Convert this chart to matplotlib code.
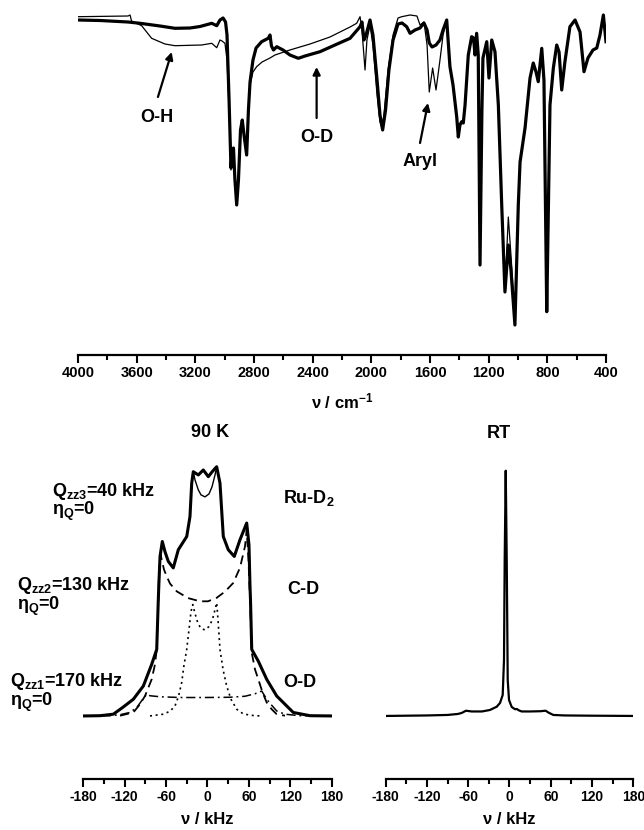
import matplotlib
matplotlib.use("Agg")
import matplotlib.pyplot as plt
from matplotlib.ticker import MultipleLocator

plt.rcParams['font.family'] = ['Liberation Sans', 'DejaVu Sans']
plt.rcParams['font.weight'] = 'bold'
plt.rcParams['mathtext.fontset'] = 'custom'
plt.rcParams['mathtext.rm'] = 'Liberation Sans:bold'
plt.rcParams['mathtext.it'] = 'Liberation Sans:bold'
plt.rcParams['mathtext.bf'] = 'Liberation Sans:bold'
plt.rcParams['mathtext.sf'] = 'Liberation Sans:bold'
plt.rcParams['mathtext.default'] = 'rm'
plt.rcParams['axes.unicode_minus'] = False

# ---------------- IR data (transmittance, arbitrary units) ----------------
ir_thick_wn = [4000, 3850, 3659, 3577, 3441, 3339, 3236, 3168, 3088, 3054, 3032, 3011, 2994, 2984,
               2970, 2957, 2947, 2940, 2930, 2918, 2906, 2892, 2880, 2868, 2850, 2838, 2827, 2807,
               2786, 2748, 2703, 2691, 2681, 2667, 2645, 2602, 2555, 2498, 2452, 2350, 2248, 2145,
               2077, 2064, 2050, 2036, 2009, 1989, 1961, 1941, 1923, 1903, 1880, 1852, 1818, 1791,
               1759, 1736, 1702, 1668, 1641, 1620, 1605, 1586, 1559, 1532, 1511, 1486, 1464, 1443,
               1418, 1407, 1396, 1384, 1373, 1361, 1339, 1316, 1303, 1293, 1282, 1271, 1259, 1246,
               1239, 1213, 1198, 1179, 1157, 1134, 1111, 1089, 1066, 1048, 1021, 998, 986, 952,
               918, 896, 877, 862, 838, 823, 804, 792, 782, 759, 736, 720, 702, 680, 646, 611,
               577, 550, 523, 489, 463, 441, 418, 400]
ir_thick_t = [320, 319.5, 318, 316.7, 314, 311.7, 312, 313.5, 316.7, 314.3, 320, 322, 318, 305,
              240, 172, 190, 192, 160, 135, 160, 210, 220, 205, 185, 230, 258, 280,
              292, 298.3, 301.7, 305, 294, 290, 293.3, 290, 285, 281.7, 284, 288.3, 295, 301.7,
              313.3, 318, 300, 305, 320, 305, 260, 225, 210, 230, 270, 300, 316, 317,
              313.3, 306.7, 310, 312, 317, 310, 297, 293, 295, 300, 310, 320, 273.3, 255,
              223.3, 203, 215, 218.3, 217, 235, 285, 303.3, 302, 285, 306.7, 285, 75, 230,
              282, 298.3, 262, 300, 288.3, 235, 135, 48, 95, 70, 15, 135, 178, 212,
              262, 277, 268, 258.3, 291.7, 260, 28.3, 140, 235, 272, 295, 288, 250, 278.3, 313.3, 320,
              308, 268.3, 282, 290, 292, 305, 325, 298.3]

ir_thin_wn = [4000, 3659, 3645, 3635, 3566, 3498, 3407, 3339, 3157, 3088, 3054, 3032, 3018, 2998,
              2984, 2970, 2957, 2947, 2940, 2930, 2918, 2906, 2892, 2880, 2868, 2850, 2838, 2827,
              2807, 2782, 2745, 2691, 2657, 2555, 2418, 2282, 2145, 2100, 2077, 2064, 2043, 2030,
              2009, 1989, 1961, 1941, 1927, 1914, 1886, 1852, 1818, 1793, 1736, 1689, 1668, 1641,
              1620, 1605, 1582, 1559, 1532, 1511, 1486, 1464, 1443,
              1418, 1407, 1396, 1384, 1373, 1361, 1339, 1316, 1303, 1293, 1282, 1271, 1259, 1246,
              1239, 1213, 1198, 1179, 1157, 1134, 1111, 1089, 1066, 1048, 1021, 998, 986, 952,
              918, 896, 877, 862, 838, 823, 804, 792, 782, 759, 736, 720, 702, 680, 646, 611,
              577, 550, 523, 489, 463, 441, 418, 400]
ir_thin_t = [323.3, 324, 325, 319, 314.3, 301.7, 296, 294.3, 295, 296.7, 292.3, 300, 299, 296.7,
             280, 230, 170, 188, 190, 158, 135, 158, 205, 218, 202, 185, 225, 255,
             268, 273.3, 278, 282, 285, 290, 296, 303, 313, 316.7, 323.3, 310, 270, 300,
             315, 295, 245, 218, 212, 225, 270, 305, 322, 323.3, 325, 324, 315, 318,
             295, 248, 272, 250, 280, 305, 320, 273.3, 255,
             223.3, 203, 215, 218.3, 217, 235, 285, 303.3, 302, 285, 306.7, 285, 75, 230,
             282, 298.3, 262, 300, 288.3, 235, 135, 50, 123, 85, 20, 135, 178, 212,
             262, 277, 268, 258.3, 291.7, 260, 28.3, 140, 235, 272, 295, 288, 250, 278.3, 313.3, 320,
             308, 268.3, 282, 290, 292, 305, 325, 298.3]

ir_ticks = [4000, 3600, 3200, 2800, 2400, 2000, 1600, 1200, 800, 400]

# ---------------- 2H NMR, 90 K ----------------
exp90_nu = [-180, -155.8, -136.5, -122.5, -107.5, -93, -80.9, -73.6, -71.3, -70.6, -68.8, -65.5,
            -61.6, -56.8, -49.6, -42.3, -30.1, -25.4, -22.9, -20.6, -13.3, -6.1, 1.2, 6.5, 13.3,
            18.1, 22.9, 30.1, 38.8, 47.1, 56.8, 60.1, 61.6, 62.3, 64.1, 73.6, 85.8, 100.3, 124.3,
            148.6, 180]
exp90_i = [0, 0.001, 0.007, 0.035, 0.067, 0.12, 0.207, 0.267, 0.467, 0.52, 0.64, 0.70,
           0.659, 0.62, 0.594, 0.667, 0.72, 0.80, 0.934, 0.98, 0.967, 0.987, 0.96, 0.979, 1.0,
           0.934, 0.72, 0.667, 0.64, 0.707, 0.774, 0.687, 0.52, 0.467, 0.267, 0.22, 0.147, 0.08, 0.014,
           0.001, 0]

sum90_nu = [-20.6, -18.1, -13.3, -9.4, -3.6, 2.2, 6.5, 10.9, 13.3]
sum90_i = [0.98, 0.947, 0.907, 0.887, 0.879, 0.891, 0.919, 0.967, 0.999]

cd_nu = [-126.8, -107.5, -97.8, -90.6, -80.9, -76.1, -73.6, -71.7, -70.3, -68.0, -63, -59.1,
         -54.3, -44.6, -28.3, -10.9, 0.7, 13.3, 25.4, 37.4, 47.1, 54.3, 56.8, 59.4, 61.6, 64.1,
         68.8, 73.6, 79.7, 85.8, 93, 100.3, 112.3]
cd_i = [0.001, 0.014, 0.047, 0.08, 0.147, 0.207, 0.267, 0.427, 0.567, 0.647, 0.587, 0.56,
        0.531, 0.50, 0.473, 0.46, 0.46, 0.474, 0.499, 0.534, 0.595, 0.68, 0.747, 0.627, 0.467, 0.254,
        0.187, 0.147, 0.095, 0.054, 0.027, 0.007, 0.001]

rud_nu = [-83.3, -64.1, -54.3, -47.1, -42, -37.4, -34.1, -30.1, -26.8, -23.9, -21.4, -18.1,
          -13.8, -9.4, -3.6, 2.2, 7.2, 10.9, 13.3, 15.2, 18.1, 22.5, 27.8, 34, 42.3, 51.4,
          61.6, 76.1]
rud_i = [0, 0.007, 0.019, 0.04, 0.079, 0.134, 0.203, 0.267, 0.347, 0.419, 0.447, 0.411,
         0.371, 0.351, 0.345, 0.359, 0.387, 0.427, 0.454, 0.387, 0.267, 0.187, 0.12, 0.067, 0.027, 0.009,
         0.003, 0]

od_nu = [-180, -141.3, -126.8, -112.3, -102.2, -94.9, -88.1, -83.3, -68.8, -39.9, -3.6, 32.6,
         54.3, 68.8, 78.6, 85.8, 93, 100.3, 112.3, 134.1, 180]
od_i = [0, 0.001, 0.005, 0.014, 0.035, 0.063, 0.087, 0.081, 0.077, 0.074, 0.074, 0.075,
        0.079, 0.089, 0.10, 0.067, 0.043, 0.02, 0.007, 0.001, 0]

# ---------------- 2H NMR, RT ----------------
rt_nu = [-180, -150, -120, -90, -75, -69.5, -63.3, -55, -40, -28.4, -18.6, -13.8, -9.9, -8,
         -7, -5.5, -4, -2.6, -0.7, 3.2, 8, 10.5, 14, 17.7, 30, 45, 52.5, 57, 63.7, 80, 120, 180]
rt_i = [0, 0.001, 0.002, 0.004, 0.008, 0.012, 0.021, 0.018, 0.018, 0.024, 0.037, 0.052, 0.084, 0.224,
        0.624, 0.984, 0.62, 0.144, 0.064, 0.036, 0.027, 0.028, 0.022, 0.018, 0.018, 0.019, 0.021, 0.013,
        0.004, 0.002, 0.001, 0]

nmr_ticks = [-180, -120, -60, 0, 60, 120, 180]

W, H = 644, 830
fig = plt.figure(figsize=(W / 100, H / 100), dpi=100)


def rect(x0, y_top, x1, y_bot):
    return [x0 / W, 1 - y_bot / H, (x1 - x0) / W, (y_bot - y_top) / H]


def style_bottom(ax, lab_size):
    for s in ('left', 'right', 'top'):
        ax.spines[s].set_visible(False)
    ax.spines['bottom'].set_linewidth(1.6)
    ax.tick_params(axis='y', left=False, labelleft=False)
    ax.tick_params(axis='x', which='major', direction='out', length=6, width=1.5,
                   labelsize=lab_size, pad=2)
    ax.tick_params(axis='x', which='minor', direction='out', length=3.5, width=1.5)
    for lab in ax.get_xticklabels():
        lab.set_fontweight('bold')


# ---- IR panel ----
ax1 = fig.add_axes(rect(78, 10, 606, 355))
ax1.plot(ir_thin_wn, ir_thin_t, color='black', lw=0.9)
ax1.plot(ir_thick_wn, ir_thick_t, color='black', lw=2.3)
ax1.set_xlim(4000, 400)
ax1.set_ylim(-15, 330)
ax1.set_xticks(ir_ticks)
ax1.xaxis.set_minor_locator(MultipleLocator(200))
style_bottom(ax1, 10.5)
ax1.set_xlabel('ν / cm$^{-1}$', fontsize=12, fontweight='bold', labelpad=8)

arrow = dict(arrowstyle='-|>', color='black', lw=1.6, mutation_scale=11, shrinkA=0, shrinkB=0)
ax1.annotate('', xy=(3361, 288), xytext=(3455, 243), arrowprops=arrow)
ax1.text(3463, 222, 'O-H', ha='center', va='center', fontsize=13, fontweight='bold')
ax1.annotate('', xy=(2373, 273), xytext=(2373, 222), arrowprops=arrow)
ax1.text(2373, 203, 'O-D', ha='center', va='center', fontsize=13, fontweight='bold')
ax1.annotate('', xy=(1614, 237), xytext=(1668, 197), arrowprops=arrow)
ax1.text(1668, 178, 'Aryl', ha='center', va='center', fontsize=13, fontweight='bold')

# ---- NMR 90 K ----
ylim_nmr = (-0.253, 1.027)
ax2 = fig.add_axes(rect(83.3, 460, 331.7, 779))
ax2.plot(od_nu, od_i, color='black', lw=1.1, ls=(0, (6, 2.5, 1.2, 2.5)))
ax2.plot(rud_nu, rud_i, color='black', lw=1.2, ls=(0, (1.2, 2.2)))
ax2.plot(cd_nu, cd_i, color='black', lw=1.3, ls=(0, (5, 3)))
ax2.plot(sum90_nu, sum90_i, color='black', lw=1.0)
ax2.plot(exp90_nu, exp90_i, color='black', lw=2.2)
ax2.set_xlim(-180, 180)
ax2.set_ylim(*ylim_nmr)
ax2.set_xticks(nmr_ticks)
ax2.xaxis.set_minor_locator(MultipleLocator(30))
style_bottom(ax2, 10)
ax2.set_xlabel('ν / kHz', fontsize=12, fontweight='bold', labelpad=6)

# ---- NMR RT ----
ax3 = fig.add_axes(rect(385.7, 460, 633.3, 779))
ax3.plot(rt_nu, rt_i, color='black', lw=1.6)
ax3.set_xlim(-180, 180)
ax3.set_ylim(*ylim_nmr)
ax3.set_xticks(nmr_ticks)
ax3.xaxis.set_minor_locator(MultipleLocator(30))
style_bottom(ax3, 10)
ax3.set_xlabel('ν / kHz', fontsize=12, fontweight='bold', labelpad=6)


def ftext(x, y, s, **kw):
    kw.setdefault('fontsize', 13)
    kw.setdefault('fontweight', 'bold')
    fig.text(x / W, 1 - y / H, s, **kw)


ftext(210, 432, '90 K', ha='center', va='center')
ftext(499, 433, 'RT', ha='center', va='center')

ftext(51.7, 491, 'Q$_{zz3}$=40 kHz', ha='left', va='center')
ftext(51.7, 511, 'η$_{Q}$=0', ha='left', va='center')
ftext(17.3, 585, 'Q$_{zz2}$=130 kHz', ha='left', va='center')
ftext(17.3, 606, 'η$_{Q}$=0', ha='left', va='center')
ftext(10, 681, 'Q$_{zz1}$=170 kHz', ha='left', va='center')
ftext(10, 702, 'η$_{Q}$=0', ha='left', va='center')
ftext(282.7, 498, 'Ru-D$_{2}$', ha='left', va='center')
ftext(287.3, 590, 'C-D', ha='left', va='center')
ftext(283.3, 682, 'O-D', ha='left', va='center')

fig.savefig('out.png', dpi=100)
